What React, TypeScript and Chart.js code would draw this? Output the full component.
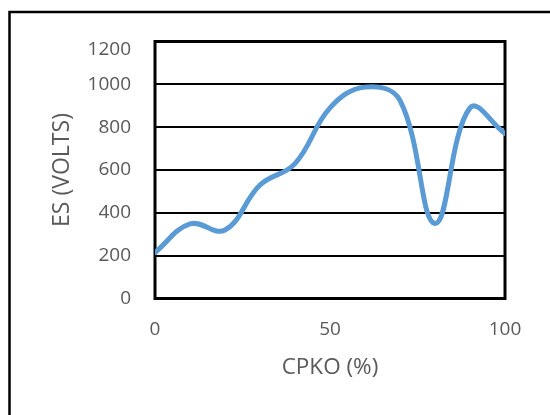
import React, { useEffect, useRef } from 'react';
import { Chart, registerables } from 'chart.js';

Chart.register(...registerables);

// CPKO (%) values
const cpko = [0, 10, 20, 30, 40, 50, 60, 70, 80, 90, 100];
// ES (VOLTS) values
const esVolts = [215, 348, 320, 530, 630, 890, 987, 925, 350, 890, 770];
const yTickValues = [0, 200, 400, 600, 800, 1000, 1200];
const xTickValues = [0, 50, 100];

const FONT = '"Open Sans", "Noto Sans", sans-serif';
const TEXT = '#595959';

const framePlugin = {
  id: 'outerFrame',
  beforeDraw(chart: any) {
    const ctx = chart.ctx;
    ctx.save();
    ctx.strokeStyle = '#000';
    ctx.lineWidth = 2.5;
    ctx.beginPath();
    ctx.moveTo(9.5, 415);
    ctx.lineTo(9.5, 12);
    ctx.lineTo(550, 12);
    ctx.stroke();
    ctx.restore();
  },
};

const plotBorderPlugin = {
  id: 'plotBorder',
  beforeDatasetsDraw(chart: any) {
    const { left, top, right, bottom } = chart.chartArea;
    const ctx = chart.ctx;
    ctx.save();
    ctx.strokeStyle = '#000';
    ctx.lineWidth = 3;
    ctx.strokeRect(left, top, right - left, bottom - top);
    ctx.restore();
  },
};

export default function App() {
  const ref = useRef<HTMLCanvasElement | null>(null);

  useEffect(() => {
    if (!ref.current) return;
    const chart = new Chart(ref.current, {
      type: 'line',
      data: {
        datasets: [
          {
            label: 'ES (VOLTS)',
            data: cpko.map((x, i) => ({ x, y: esVolts[i] })),
            borderColor: '#5B9BD5',
            borderWidth: 5,
            pointRadius: 0,
            tension: 0.4,
            fill: false,
            borderCapStyle: 'round',
            borderJoinStyle: 'round',
          },
        ],
      },
      options: {
        responsive: false,
        animation: false,
        layout: { padding: { left: 0, top: 41.5, right: 45, bottom: 0 } },
        plugins: { legend: { display: false }, tooltip: { enabled: false }, title: { display: false } },
        scales: {
          x: {
            type: 'linear',
            min: 0,
            max: 100,
            afterBuildTicks: (s: any) => {
              s.ticks = xTickValues.map((v) => ({ value: v }));
            },
            afterFit: (s: any) => {
              s.height = 116.5;
            },
            grid: { display: false, drawTicks: false },
            border: { display: false },
            ticks: {
              padding: 20,
              maxRotation: 0,
              color: TEXT,
              font: { family: FONT, size: 19 },
            },
            title: {
              display: true,
              text: 'CPKO (%)',
              color: TEXT,
              font: { family: FONT, size: 22.5 },
              padding: { top: 0, bottom: 33.5 },
            },
          },
          y: {
            type: 'linear',
            min: 0,
            max: 1200,
            afterBuildTicks: (s: any) => {
              s.ticks = yTickValues.map((v) => ({ value: v }));
            },
            afterFit: (s: any) => {
              s.width = 155;
            },
            grid: { color: '#000', lineWidth: 2, drawTicks: false },
            border: { display: false },
            ticks: {
              padding: 24,
              color: TEXT,
              font: (ctx: any) => ({
                family: FONT,
                size: 19,
                lineHeight: ctx.tick && ctx.tick.value === 1200 ? 0.9 : 1.2,
              }),
              callback: (v: any) => (v === 1200 ? ['', '1200'] : String(v)),
            },
            title: {
              display: true,
              text: 'ES (VOLTS)',
              color: TEXT,
              font: { family: FONT, size: 23 },
              padding: { top: 48.2, bottom: 0 },
            },
          },
        },
      },
      plugins: [framePlugin, plotBorderPlugin],
    } as any);
    return () => chart.destroy();
  }, []);

  return (
    <div style={{ position: 'absolute', left: 0, top: 0, width: 550, height: 415, background: '#fff' }}>
      <canvas ref={ref} width={550} height={415} style={{ display: 'block' }} />
    </div>
  );
}
